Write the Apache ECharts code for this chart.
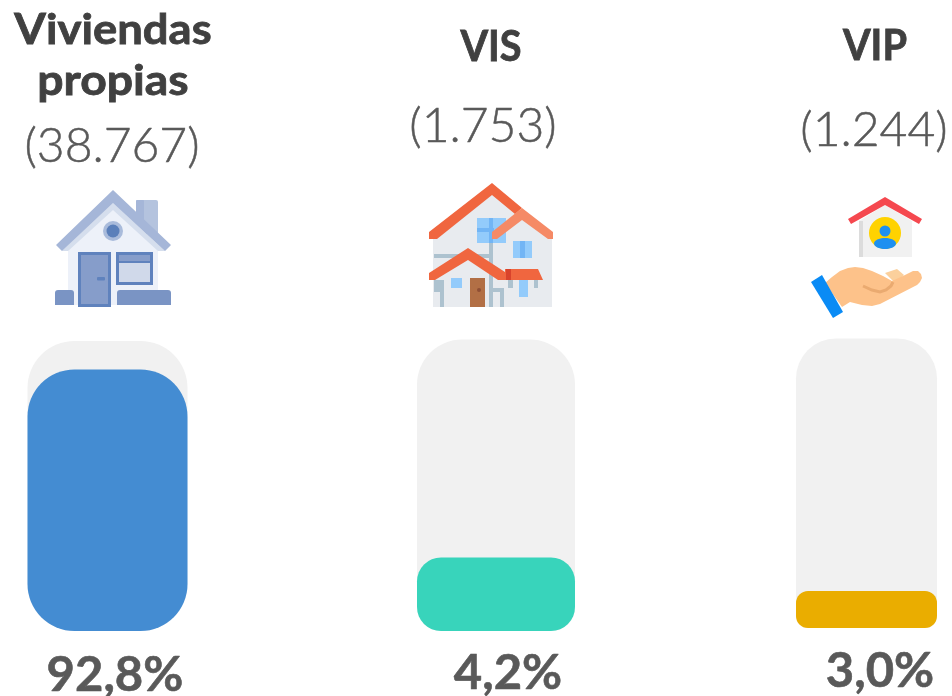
<!DOCTYPE html>
<html><head><meta charset="utf-8">
<style>html,body{margin:0;padding:0;background:#fff}#c{width:952px;height:696px}</style>
<script src="https://cdn.jsdelivr.net/npm/echarts@6/dist/echarts.min.js"></script>
</head><body><div id="c"></div>
<script>
const categories = ['Viviendas\npropias', 'VIS', 'VIP'];
const counts = ['(38.767)', '(1.753)', '(1.244)'];
const percentLabels = ['92,8%', '4,2%', '3,0%'];
const trackLevels = [100, 100, 100];
const fillLevels = [90.2, 25.2, 12.8];

const colors = ['#448cd2', '#38d4bb', '#eaad00'];
const grids = [
  {left: 27.5, top: 341, width: 160, height: 290},
  {left: 417, top: 339.5, width: 158, height: 291.5},
  {left: 796, top: 338.5, width: 141, height: 289.5}
];
const trackRadius = [47, 45, 40];
const fillRadius = [47, 24, 12];
const titlePos = [{x: 113, y: [30, 81], sx: [1.03, 1.05]}, {x: 491, y: [47], sx: [0.9]}, {x: 875, y: [46], sx: [0.9]}];
const countPos = [{x: 112, y: 147}, {x: 483, y: 127}, {x: 874, y: 131}];
const pctPos = [{x: 115, y: 676}, {x: 508, y: 674}, {x: 880, y: 672}];

const FONT = 'Lato';
function txt(text, x, y, size, weight, fill, sx, bold) {
  return {type: 'text', x, y, scaleX: sx || 1, z: 5, silent: true,
    style: {text, fontFamily: FONT, fontSize: size, fontWeight: weight, fill,
      stroke: bold ? fill : null, lineWidth: bold || 0,
      textAlign: 'center', textVerticalAlign: 'middle', verticalAlign: 'middle'}};
}
function poly(points, fill, smooth) { return {type: 'polygon', shape: {points, smooth: smooth || 0}, style: {fill}, silent: true, z: 3}; }
function rect(x, y, width, height, fill, r, stroke, lw) {
  return {type: 'rect', shape: {x, y, width, height, r: r || 0},
    style: {fill, stroke: stroke || null, lineWidth: lw || 0}, silent: true, z: 3};
}
function circ(cx, cy, r, fill) { return {type: 'circle', shape: {cx, cy, r}, style: {fill}, silent: true, z: 3}; }

const icon1 = [
  rect(136, 200, 22, 34, '#b4c3de', 2),
  rect(136, 200, 8, 34, '#a5b6d8', 1),
  poly([[113,198],[158,246],[158,305],[68,305],[68,246]], '#edf1f9'),
  poly([[113,203],[165,251],[158,251],[113,210],[68,251],[62,251]], '#d5deed'),
  poly([[113,190],[171,245],[165,251],[113,203],[62,251],[56,245]], '#a5b6d8'),
  circ(113, 231, 10, '#a9bbdb'),
  circ(113, 231, 6.5, '#5a7fba'),
  rect(79.5, 253.5, 30, 52, '#869dca', 0, '#5f82bd', 3),
  rect(97, 277, 8, 3.5, '#5f82bd', 1),
  rect(117.5, 253.5, 34, 30, '#d0d9ea', 0, '#5f82bd', 3),
  rect(119, 255, 31, 6, '#869dca'),
  rect(117, 261, 35, 2, '#5f82bd'),
  rect(55, 290, 19, 15, '#7a94c4', [3,3,0,0]),
  rect(117, 290, 54, 15, '#7a94c4', [3,3,0,0])
];
const icon2 = [
  poly([[433,238],[492,190],[522,214],[552,238],[552,307],[433,307]], '#e8ebef'),
  rect(477, 218, 29, 25, '#93cbfb'),
  rect(489, 218, 4, 25, '#72b5f5'),
  rect(477, 228, 17, 4, '#72b5f5'),
  rect(434, 254, 58, 4, '#adc2cf'),
  rect(489, 243, 4, 64, '#adc2cf'),
  rect(440, 280, 4, 27, '#adc2cf'),
  rect(434, 280, 6, 12, '#adc2cf'),
  rect(500, 290, 4, 17, '#adc2cf'),
  rect(492, 288, 12, 4, '#adc2cf'),
  rect(508, 280, 5, 8, '#adc2cf'),
  rect(534, 280, 4, 8, '#adc2cf'),
  poly([[492,183],[522,208],[515,214],[492,195],[437,239],[429,239],[429,232]], '#f0663f'),
  poly([[522,208],[553,232],[553,239],[548,239],[522,220],[497,239],[492,239],[492,232]], '#f58a66'),
  rect(513, 241, 19, 17, '#93cbfb'),
  rect(520, 241, 5, 17, '#72b5f5'),
  poly([[468,258],[444,273],[444,307],[489,307],[489,273]], '#e8ebef'),
  poly([[468,248],[505,272],[505,280],[498,280],[468,260],[435,280],[429,280],[429,273]], '#f0663f'),
  poly([[505,269],[538,269],[543,280],[505,280]], '#f0663f'),
  rect(506, 269, 5, 11, '#d9432c'),
  rect(519, 280, 9, 17, '#93cbfb'),
  rect(470, 278, 15, 29, '#b26f45'),
  circ(479, 290, 2, '#8f4f35'),
  rect(451, 278, 11, 10, '#93cbfb')
];
const icon3 = [
  poly([[885,205],[859,221],[859,257],[912,257],[912,221]], '#f1f1f1'),
  rect(859, 221, 4, 36, '#dcdcdc'),
  poly([[885,197],[922,219],[919,224],[885,205],[851,224],[848,219]], '#f5484f'),
  circ(885, 233, 16, '#ffd200'),
  circ(885, 231, 5.5, '#1e90f0'),
  {type: 'ellipse', shape: {cx: 885, cy: 243.5, rx: 11, ry: 5.5}, style: {fill: '#1e90f0'}, silent: true, z: 3},
  poly([[885,273],[897,269],[904,275],[895,283]], '#fbd09c'),
  poly([[825,283],[832,277],[840,271],[848,268],[855,267],[863,268],[872,271],[883,276],[892,281],[905,275],[913,271],[918,271],[921,274],[922,278],[920,282],[917,285],[880,304],[872,306],[862,305],[850,302],[842,307]], '#fdc28a'),
  {type: 'polyline', shape: {points: [[863,286],[872,290],[880,292],[886,290],[891,286],[893,282]]}, style: {fill: null, stroke: '#eaaa70', lineWidth: 3}, silent: true, z: 3},
  poly([[811,282],[822,275],[843,312],[833,318]], '#0a8bf5')
];

const texts = [];
categories.forEach((c, i) => {
  c.split('\n').forEach((line, j) => {
    texts.push(txt(line, titlePos[i].x, titlePos[i].y[j], 42, 700, '#404040', titlePos[i].sx[j] * 1.05, 0.8));
  });
  texts.push(txt(counts[i], countPos[i].x, countPos[i].y, 48, 300, '#595959', 1.0, 0.5));
  texts.push(txt(percentLabels[i], pctPos[i].x, pctPos[i].y, 48, 700, '#595959', 1.02, 0.6));
});

const series = [];
categories.forEach((c, i) => {
  series.push({type: 'bar', xAxisIndex: i, yAxisIndex: i, barWidth: '100%', barGap: '-100%', silent: true,
    data: [trackLevels[i]],
    itemStyle: {color: '#f1f1f1', borderRadius: [trackRadius[i], trackRadius[i], fillRadius[i], fillRadius[i]]}});
  series.push({type: 'bar', xAxisIndex: i, yAxisIndex: i, barWidth: '100%', barGap: '-100%', silent: true,
    data: [fillLevels[i]],
    itemStyle: {color: colors[i], borderRadius: fillRadius[i]}});
});

const chart = echarts.init(document.getElementById('c'), null, {renderer: 'canvas'});
chart.setOption({
  animation: false,
  backgroundColor: '#fff',
  grid: grids,
  xAxis: categories.map((c, i) => ({type: 'category', gridIndex: i, data: [c.replace('\n', ' ')], show: false})),
  yAxis: categories.map((c, i) => ({type: 'value', gridIndex: i, min: 0, max: 100, show: false})),
  series,
  graphic: {elements: [...texts, ...icon1, ...icon2, ...icon3]}
});
</script></body></html>
